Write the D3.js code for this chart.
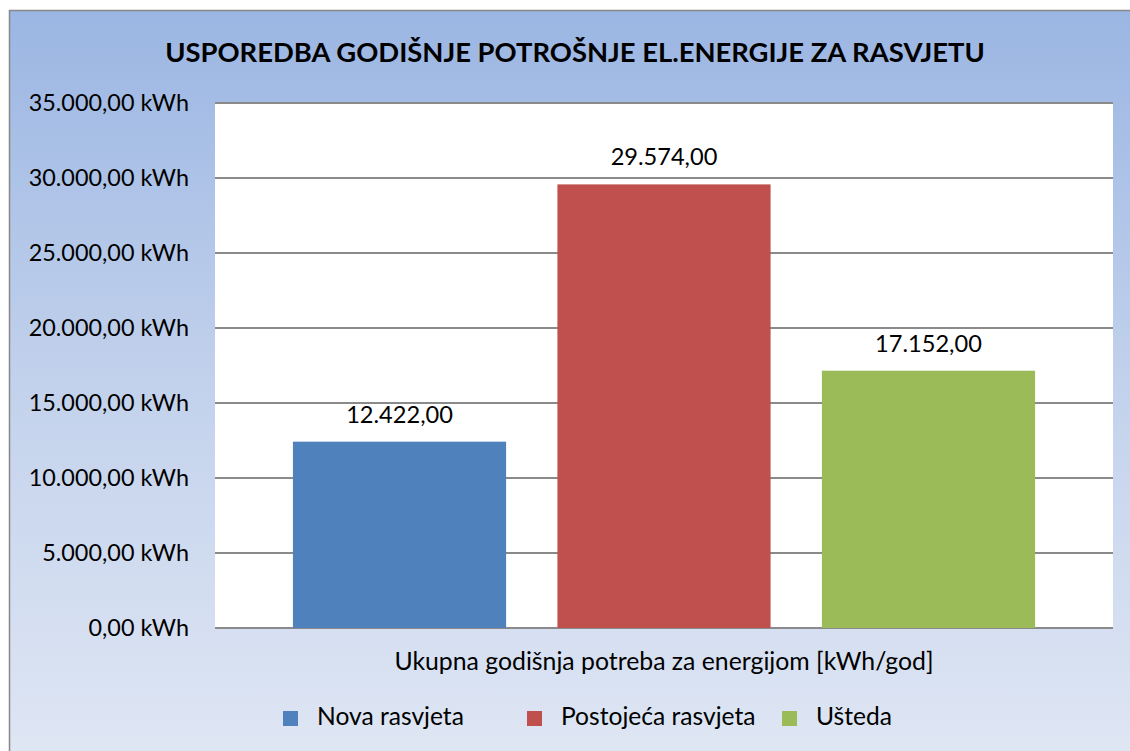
<!DOCTYPE html>
<html>
<head>
<meta charset="utf-8">
<script src="https://cdn.jsdelivr.net/npm/d3@7"></script>
<style>
  html, body { margin: 0; padding: 0; background: #ffffff; }
  svg { display: block; }
  text { font-family: Lato, "Noto Sans", sans-serif; fill: #000; }
</style>
</head>
<body>
<svg id="chart" width="1130" height="751"></svg>
<script>
// Annual lighting energy consumption comparison
const title = "USPOREDBA GODIŠNJE POTROŠNJE EL.ENERGIJE ZA RASVJETU";
const category = ["Ukupna godišnja potreba za energijom [kWh/god]"];
const seriesNames = ["Nova rasvjeta", "Postojeća rasvjeta", "Ušteda"];
const seriesValues = [12422, 29574, 17152];
const seriesColors = ["#4f81bd", "#c0504d", "#9bbb59"];
const yTicks = [0, 5000, 10000, 15000, 20000, 25000, 30000, 35000];

const svg = d3.select("#chart");

// Croatian number format: "." thousands, "," decimals
const hr = d3.formatLocale({ decimal: ",", thousands: ".", grouping: [3], currency: ["", " kn"] });
const fmt = hr.format(",.2f");

// Background panel with vertical gradient
const defs = svg.append("defs");
const grad = defs.append("linearGradient").attr("id", "bg").attr("x1", 0).attr("y1", 0).attr("x2", 0).attr("y2", 1);
grad.append("stop").attr("offset", "0%").attr("stop-color", "#9bb6e3");
grad.append("stop").attr("offset", "50%").attr("stop-color", "#c3d2ec");
grad.append("stop").attr("offset", "100%").attr("stop-color", "#e0e7f4");

svg.append("rect")
  .attr("x", 9.5).attr("y", 10.5).attr("width", 1140).attr("height", 760)
  .attr("fill", "url(#bg)").attr("stroke", "#888888").attr("stroke-width", 1.5);

// Title
svg.append("text")
  .attr("x", 575).attr("y", 62)
  .attr("text-anchor", "middle")
  .style("font-weight", "bold").style("font-size", "27.4px")
  .text(title);

// Plot area
const plot = { left: 215, right: 1113, top: 103, bottom: 628 };

svg.append("rect")
  .attr("x", plot.left).attr("y", plot.top)
  .attr("width", plot.right - plot.left).attr("height", plot.bottom - plot.top)
  .attr("fill", "#ffffff");

const y = d3.scaleLinear().domain([0, 35000]).range([plot.bottom, plot.top]);

const x0 = d3.scaleBand().domain(category).range([plot.left, plot.right])
  .paddingInner(0).paddingOuter(0.105);
const x1 = d3.scaleBand().domain(seriesNames).range([0, x0.bandwidth()])
  .paddingInner(0.194).paddingOuter(0);

// Gridlines
svg.append("g").selectAll("line").data(yTicks).join("line")
  .attr("x1", plot.left).attr("x2", plot.right)
  .attr("y1", d => y(d)).attr("y2", d => y(d))
  .attr("stroke", "#8a8a8a").attr("stroke-width", 2);

// Y axis labels
const yAxis = d3.axisLeft(y).tickValues(yTicks).tickSize(0).tickPadding(26)
  .tickFormat(d => fmt(d) + " kWh");
const gy = svg.append("g").attr("transform", `translate(${plot.left},0)`).call(yAxis);
gy.select(".domain").remove();
gy.selectAll("text").style("font-size", "23.4px").style("font-family", "Lato, 'Noto Sans', sans-serif").attr("fill", "#000");

// Bars
const groups = svg.append("g").selectAll("g").data(category).join("g")
  .attr("transform", d => `translate(${x0(d)},0)`);

groups.selectAll("rect").data(seriesNames.map((s, i) => ({ s, v: seriesValues[i], c: seriesColors[i] })))
  .join("rect")
  .attr("x", d => x1(d.s)).attr("width", x1.bandwidth())
  .attr("y", d => y(d.v)).attr("height", d => y(0) - y(d.v))
  .attr("fill", d => d.c);

// Value labels
groups.selectAll("text.val").data(seriesNames.map((s, i) => ({ s, v: seriesValues[i] })))
  .join("text").attr("class", "val")
  .attr("x", d => x1(d.s) + x1.bandwidth() / 2)
  .attr("y", d => y(d.v) - 19)
  .attr("text-anchor", "middle").style("font-size", "23.6px")
  .text(d => fmt(d.v));

// Category axis label
svg.append("text")
  .attr("x", x0(category[0]) + x0.bandwidth() / 2).attr("y", 670)
  .attr("text-anchor", "middle").style("font-size", "24.8px")
  .text(category[0]);

// Legend
const legendX = [283, 527, 782];
const leg = svg.append("g").selectAll("g").data(seriesNames).join("g")
  .attr("transform", (d, i) => `translate(${legendX[i]},711)`);
leg.append("rect").attr("width", 15).attr("height", 15).attr("fill", (d, i) => seriesColors[i]);
leg.append("text").attr("x", 34).attr("y", 14).style("font-size", "24.6px").text(d => d);
</script>
</body>
</html>
